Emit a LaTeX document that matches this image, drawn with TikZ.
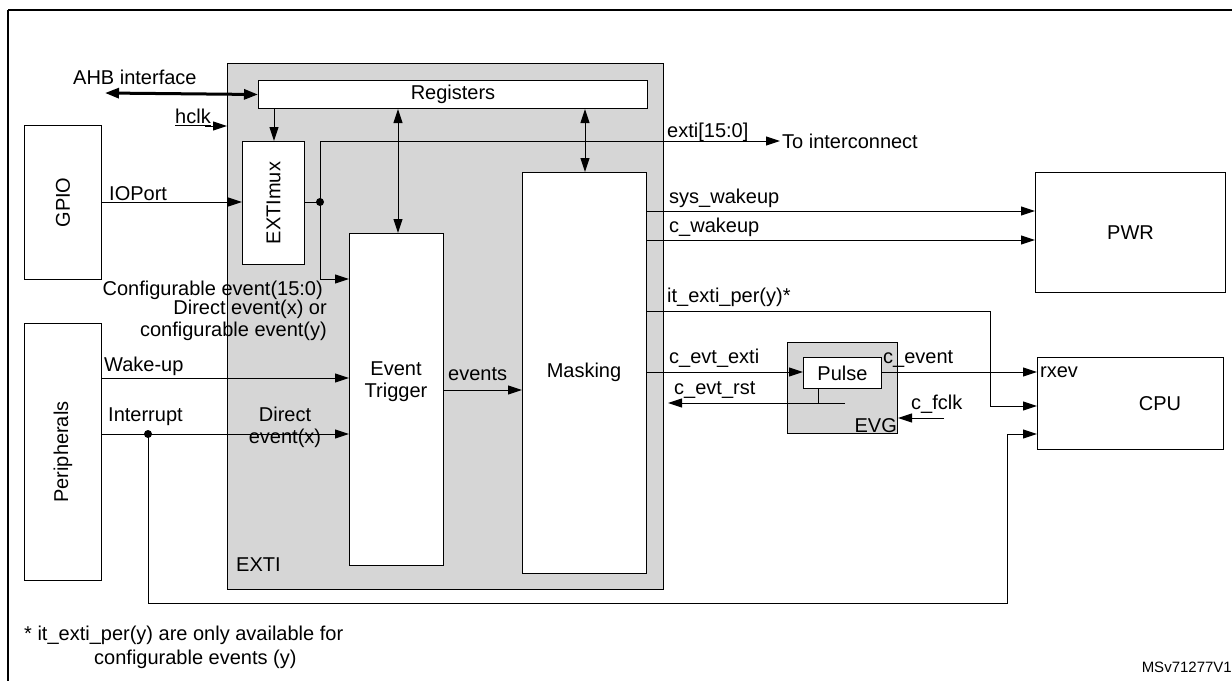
\documentclass[tikz,border=0pt]{standalone}
\usepackage{fontspec}
\setmainfont{Liberation Sans}
\usetikzlibrary{arrows.meta}
\begin{document}
\begin{tikzpicture}[x=1pt,y=-1pt,
 every node/.style={font=\fontsize{20}{22}\selectfont,inner sep=0pt},
 blk/.style={draw,line width=1pt,fill=white},
 ln/.style={line width=1pt},
 ar/.style={ln,-{Triangle[length=14pt,width=9pt]}},
 dar/.style={ln,{Triangle[length=14pt,width=9pt]}-{Triangle[length=14pt,width=9pt]}},
 lbl/.style={anchor=south west,inner sep=1pt}]
\useasboundingbox (0,0) rectangle (1232,681);
\draw[line width=1.5pt] (8,10) -- (1232,10) (8,10) -- (8,681);
\node[draw,line width=1pt,fill=black!16,minimum width=436pt,minimum height=526pt,anchor=north west] (exti) at (227,63) {};
\node[anchor=west] (extil) at (236,565) {EXTI};
\node[blk,minimum width=389pt,minimum height=28pt,anchor=north west] (reg) at (258,80) {Registers};
\node[blk,minimum width=62pt,minimum height=123pt,anchor=north west] (mux) at (242,141) {};
\node[rotate=90] (muxl) at (mux.center) {EXTImux};
\node[blk,minimum width=77pt,minimum height=154pt,anchor=north west] (gpio) at (24,125) {};
\node[rotate=90] (gpiol) at (gpio.center) {GPIO};
\node[blk,minimum width=77pt,minimum height=257pt,anchor=north west] (per) at (24,323) {};
\node[rotate=90] (perl) at (per.center) {Peripherals};
\node[blk,minimum width=94pt,minimum height=332pt,anchor=north west] (et) at (349,233) {};
\node[align=center] (etl) at (396,382) {Event\\Trigger};
\node[blk,minimum width=124pt,minimum height=401pt,anchor=north west] (mask) at (522,172) {};
\node (maskl) at (584,372) {Masking};
\node[blk,minimum width=190pt,minimum height=120pt,anchor=north west] (pwr) at (1035,172) {PWR};
\node[blk,minimum width=186pt,minimum height=92pt,anchor=north west] (cpu) at (1037,357) {};
\node (cpul) at (1160,404) {CPU};
\node[anchor=west] (rxev) at (1040,372) {rxev};
\node[draw,line width=1pt,fill=black!16,minimum width=110pt,minimum height=91pt,anchor=north west] (evg) at (787,342) {};
\node[anchor=south east] (evgl) at (897,433) {EVG};
\node[blk,minimum width=78pt,minimum height=31pt,anchor=north west] (pulse) at (803,357) {Pulse};
% AHB
\coordinate (ahb) at (105,93);
\draw[line width=3pt,{Triangle[length=14pt,width=10pt]}-{Triangle[length=14pt,width=10pt]}] (ahb) -- (reg.west);
\node[lbl] (ahbl) at (72,86) {AHB interface};
\coordinate (hc) at (205,126);
\draw[ar] (hc) -- (exti.west |- hc);
\node[lbl] (hclk) at (174,127) {\underline{hclk}};
\draw[ar] (reg.south -| 274,0) -- (mux.north -| 274,0);
\draw[dar] (reg.south -| 398,0) -- (et.north -| 398,0);
\draw[dar] (reg.south -| 585,0) -- (mask.north -| 585,0);
% IOPort
\draw[ar] (gpio.east |- 0,202) -- (mux.west |- 0,202);
\node[lbl] (iop) at (108,204) {\underline{IOPort}};
\coordinate (dot) at (320,202);
\fill (dot) circle (4pt);
\draw[ln] (mux.east |- dot) -- (dot);
\coordinate (ti) at (780,141);
\draw[ar] (dot) -- (320,141) -- (ti);
\node[anchor=west] (til) at (782,141) {To interconnect};
\node[lbl] (extil2) at (666,143) {exti[15:0]};
\draw[ar] (dot) -- (320,279) -- (et.west |- 0,279);
\node[anchor=east] (ce) at (323,290) {Configurable event(15:0)};
\node[anchor=east,align=right] (de) at (327,320) {Direct event(x) or\\configurable event(y)};
% peripherals
\draw[ar] (per.east |- 0,378) -- (et.west |- 0,378);
\node[lbl] (wu) at (103,377) {Wake-up};
\coordinate (idot) at (148,434);
\draw[ar] (per.east |- idot) -- (et.west |- idot);
\fill (idot) circle (4pt);
\node[lbl] (int) at (107,427) {Interrupt};
\node[align=center] (dex) at (285,427) {Direct\\event(x)};
\draw[ar] (idot) -- (148,603) -- (1007,603) -- (1007,434) -- (cpu.west |- 0,434);
\draw[ar] (et.east |- 0,390) -- (mask.west |- 0,390);
\node[lbl] (ev) at (447,382) {events};
% masking outputs
\draw[ar] (mask.east |- 0,211) -- (pwr.west |- 0,211);
\node[lbl] (sw) at (668,209) {sys\_wakeup};
\draw[ar] (mask.east |- 0,240) -- (pwr.west |- 0,240);
\node[lbl] (cw) at (668,238) {c\_wakeup};
\draw[ar] (mask.east |- 0,311) -- (990,311) -- (990,406) -- (cpu.west |- 0,406);
\node[lbl] (itx) at (666,308) {it\_exti\_per(y)*};
\draw[ar] (mask.east |- 0,372) -- (pulse.west |- 0,372);
\node[lbl] (cee) at (668,369) {c\_evt\_exti};
\draw[ar] (pulse.east |- 0,372) -- (cpu.west |- 0,372);
\node[lbl] (cev) at (882,369) {c\_event};
\coordinate (rj) at (845,403);
\coordinate (rt) at (668,403);
\draw[ln] (pulse.south -| 818,0) -- (818,403);
\draw[ar] (rj) -- (rt);
\node[lbl] (cer) at (673,400) {c\_evt\_rst};
\coordinate (fc) at (944,418);
\draw[ar] (fc) -- (evg.east |- fc);
\node[lbl] (cfc) at (910,415) {c\_fclk};
% footnote
\node[anchor=west] (fn1) at (24,635) {* it\_exti\_per(y) are only available for};
\node[anchor=west] (fn2) at (94,659) {configurable events (y)};
\node[anchor=east,font=\fontsize{15}{17}\selectfont] (ms) at (1232,667) {MSv71277V1};
\end{tikzpicture}
\end{document}
